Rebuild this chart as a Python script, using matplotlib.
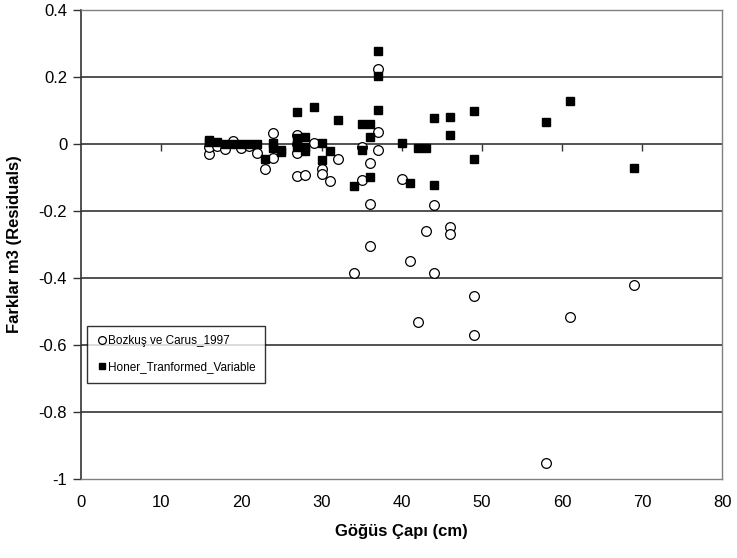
import matplotlib
matplotlib.use("Agg")
import matplotlib.pyplot as plt
import numpy as np

plt.rcParams['font.family'] = ['Liberation Sans', 'DejaVu Sans']

# residuals of the two volume models against breast-height diameter
boz_x = [16, 16, 17, 18, 19, 20, 21, 22, 23, 24, 24, 27, 27, 27, 27, 28, 29, 30, 30, 31, 32, 34, 35, 35,
         36, 36, 36, 37, 37, 37, 40, 41, 42, 43, 44, 44, 46, 46, 49, 49, 58, 61, 69]
boz_y = [-0.03, -0.01, -0.005, -0.015, 0.01, -0.012, -0.005, -0.028, -0.075, 0.033, -0.042, 0.027, -0.027,
         -0.096, 0.0, -0.093, 0.003, -0.075, -0.09, -0.112, -0.045, -0.386, -0.107, -0.008,
         -0.056, -0.179, -0.306, 0.223, 0.036, -0.018, -0.105, -0.351, -0.532, -0.259, -0.182, -0.384,
         -0.247, -0.269, -0.453, -0.57, -0.952, -0.516, -0.421]

hon_x = [16, 16, 17, 18, 19, 20, 21, 22, 23, 24, 24, 25, 25, 27, 27, 27, 28, 28, 28, 29, 30, 30, 31, 32, 34,
         35, 35, 36, 36, 36, 37, 37, 37, 40, 41, 42, 43, 44, 44, 46, 46, 49, 49, 58, 61, 69]
hon_y = [0.012, 0.005, 0.006, 0.0, 0.0, 0.0, 0.0, 0.0, -0.045, 0.003, -0.012, -0.018, -0.025, 0.094, 0.017,
         -0.008, 0.022, -0.008, -0.022, 0.111, 0.002, -0.048, -0.02, 0.072, -0.127, 0.059, -0.018, 0.059,
         0.02, -0.1, 0.278, 0.204, 0.1, 0.002, -0.117, -0.013, -0.013, 0.077, -0.122, 0.081, 0.027,
         0.098, -0.046, 0.067, 0.129, -0.073]

yticks = [0.4, 0.2, 0, -0.2, -0.4, -0.6, -0.8, -1]
ytick_labels = ['0.4', '0.2', '0', '-0.2', '-0.4', '-0.6', '-0.8', '-1']
xticks = [0, 10, 20, 30, 40, 50, 60, 70, 80]

fig = plt.figure(figsize=(7.37, 5.58), dpi=100)
ax = fig.add_axes([0.110, 0.142, 0.870, 0.840])

ax.set_xlim(0, 80)
ax.set_ylim(-1, 0.4)

# horizontal gridlines, the zero line doubles as the category axis
for y in yticks:
    if y in (0.4, -1):
        continue
    ax.axhline(y, color='#333333', lw=1.2, zorder=1)
ax.plot(xticks[1:-1], [0] * 7, ls='', marker=3, ms=5, mew=1.0, color='#333333', zorder=1)

ax.plot(boz_x, boz_y, ls='', marker='o', ms=7, mfc='white', mec='black', mew=0.9,
        label='Bozkuş ve Carus_1997', zorder=3)
ax.plot(hon_x, hon_y, ls='', marker='s', ms=6, mfc='black', mec='black',
        label='Honer_Tranformed_Variable', zorder=4)

for side in ('top', 'right', 'bottom'):
    ax.spines[side].set_color('#808080')
    ax.spines[side].set_linewidth(1.0)
ax.spines['left'].set_color('#333333')
ax.spines['left'].set_linewidth(1.2)

ax.set_yticks(yticks)
ax.set_yticklabels(ytick_labels)
ax.set_xticks(xticks)
ax.tick_params(axis='y', direction='out', length=6, width=1.0, color='#333333', labelsize=12, pad=4)
ax.tick_params(axis='x', length=0, labelsize=12, pad=12)

ax.set_xlabel('Göğüs Çapı (cm)', fontsize=12, fontweight='bold', labelpad=10)
ax.set_ylabel('Farklar m3 (Residuals)', fontsize=12, fontweight='bold', labelpad=12)

leg = ax.legend(loc='lower left', bbox_to_anchor=(0.009, 0.205), fontsize=8.5, frameon=True,
                fancybox=False, edgecolor='black', borderpad=0.8, handletextpad=0.0,
                handlelength=1.0, labelspacing=1.2, borderaxespad=0, markerscale=0.8)
leg.get_frame().set_linewidth(1.0)

fig.savefig('out.png', dpi=100)
